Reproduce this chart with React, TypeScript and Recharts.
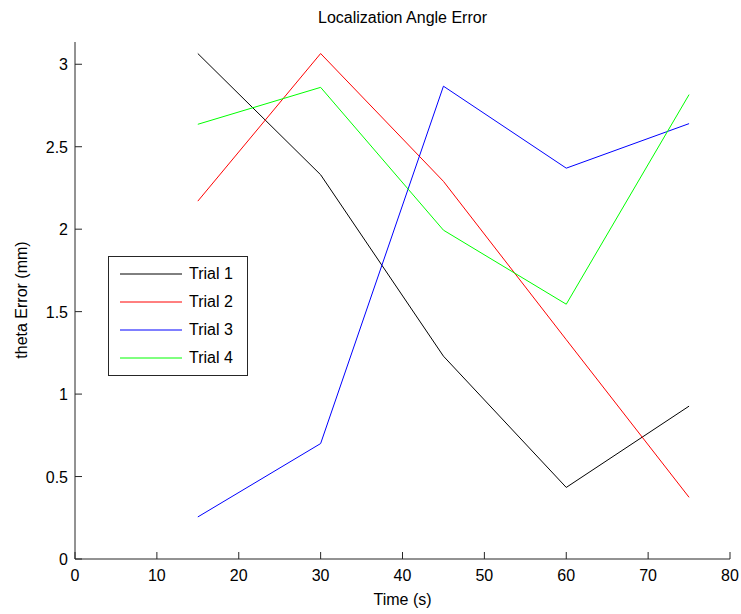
import React from "react";
import { LineChart, Line, XAxis, YAxis } from "recharts";

const times = [15, 30, 45, 60, 75];
const trial1 = [3.065, 2.33, 1.23, 0.434, 0.927];
const trial2 = [2.17, 3.065, 2.29, 1.33, 0.374];
const trial3 = [0.255, 0.7, 2.867, 2.37, 2.64];
const trial4 = [2.636, 2.86, 1.994, 1.545, 2.816];

const seriesNames = ["Trial 1", "Trial 2", "Trial 3", "Trial 4"];
const seriesColors = ["#000000", "#ff0000", "#0000ff", "#00ff00"];
const seriesValues = [trial1, trial2, trial3, trial4];

const xTicks = [0, 10, 20, 30, 40, 50, 60, 70, 80];
const yTicks = [0, 0.5, 1, 1.5, 2, 2.5, 3];

const title = "Localization Angle Error";
const xLabel = "Time (s)";
const yLabel = "theta Error (mm)";

const data = times.map((t, i) => {
  const row: Record<string, number> = { t };
  seriesNames.forEach((n, k) => {
    row[n] = seriesValues[k][i];
  });
  return row;
});

const FONT = "'Liberation Sans', Arial, sans-serif";
const AX = "#262626";
const TL = 7;

const BottomTick = (p: any) => (
  <g>
    <line x1={p.x} x2={p.x} y1={p.y} y2={p.y - TL} stroke={AX} strokeWidth={1} />
    <text x={p.x} y={p.y + 22} textAnchor="middle" fontSize={16} fontFamily={FONT} fill="#000">
      {p.payload.value}
    </text>
  </g>
);
const TopTick = (p: any) => (
  <line x1={p.x} x2={p.x} y1={p.y} y2={p.y + TL} stroke={AX} strokeWidth={1} />
);
const LeftTick = (p: any) => (
  <g>
    <line x1={p.x} x2={p.x + TL} y1={p.y} y2={p.y} stroke={AX} strokeWidth={1} />
    <text x={p.x - 7} y={p.y + 6} textAnchor="end" fontSize={16} fontFamily={FONT} fill="#000">
      {p.payload.value}
    </text>
  </g>
);
const RightTick = (p: any) => (
  <line x1={p.x} x2={p.x - TL} y1={p.y} y2={p.y} stroke={AX} strokeWidth={1} />
);

export default function App() {
  return (
    <div style={{ position: "absolute", left: 0, top: 0, width: 741, height: 614, background: "#fff" }}>
      <LineChart
        width={741}
        height={614}
        data={data}
        margin={{ top: 42, right: 11, bottom: 25, left: 30 }}
      >
        <XAxis
          xAxisId="b"
          dataKey="t"
          type="number"
          domain={[0, 80]}
          ticks={xTicks}
          interval={0}
          height={30}
          tickSize={0}
          tickMargin={0}
          tickLine={false}
          axisLine={{ stroke: AX }}
          tick={<BottomTick />}
        />
        <XAxis
          xAxisId="t"
          orientation="top"
          dataKey="t"
          type="number"
          domain={[0, 80]}
          ticks={xTicks}
          interval={0}
          height={0}
          tickSize={0}
          tickMargin={0}
          tickLine={false}
          axisLine={{ stroke: AX }}
          tick={<TopTick />}
        />
        <YAxis
          yAxisId="l"
          type="number"
          domain={[0, 3.135]}
          ticks={yTicks}
          interval={0}
          width={45}
          tickSize={0}
          tickMargin={0}
          tickLine={false}
          axisLine={{ stroke: AX }}
          tick={<LeftTick />}
        />
        <YAxis
          yAxisId="r"
          orientation="right"
          type="number"
          domain={[0, 3.135]}
          ticks={yTicks}
          interval={0}
          width={0}
          tickSize={0}
          tickMargin={0}
          tickLine={false}
          axisLine={{ stroke: AX }}
          tick={<RightTick />}
        />
        {seriesNames.map((n, k) => (
          <Line
            key={n}
            xAxisId="b"
            yAxisId="l"
            dataKey={n}
            stroke={seriesColors[k]}
            strokeWidth={1}
            dot={false}
            activeDot={false}
            type="linear"
            isAnimationActive={false}
          />
        ))}
      </LineChart>
      <div
        style={{
          position: "absolute",
          left: 0,
          width: 741,
          top: 9,
          textAlign: "center",
          paddingLeft: 64,
          boxSizing: "border-box",
          fontFamily: FONT,
          fontSize: 16,
          color: "#000",
        }}
      >
        {title}
      </div>
      <div
        style={{
          position: "absolute",
          left: 0,
          width: 741,
          top: 591,
          textAlign: "center",
          paddingLeft: 64,
          boxSizing: "border-box",
          fontFamily: FONT,
          fontSize: 16,
          color: "#000",
        }}
      >
        {xLabel}
      </div>
      <div
        style={{
          position: "absolute",
          left: 22,
          top: 300,
          transform: "translate(-50%, -50%) rotate(-90deg)",
          whiteSpace: "nowrap",
          fontFamily: FONT,
          fontSize: 16,
          color: "#000",
        }}
      >
        {yLabel}
      </div>
      <div
        style={{
          position: "absolute",
          left: 108,
          top: 256,
          width: 140,
          height: 120,
          border: `1px solid ${AX}`,
          boxSizing: "border-box",
          background: "#fff",
        }}
      >
        {seriesNames.map((n, k) => (
          <div
            key={n}
            style={{
              position: "absolute",
              left: 0,
              top: 17 + k * 28 - 11,
              height: 22,
              display: "flex",
              alignItems: "center",
              fontFamily: FONT,
              fontSize: 16,
              color: "#000",
            }}
          >
            <svg width={80} height={22} style={{ display: "block" }}>
              <line x1={11} x2={73} y1={11} y2={11} stroke={seriesColors[k]} strokeWidth={1} />
            </svg>
            <span>{n}</span>
          </div>
        ))}
      </div>
    </div>
  );
}
